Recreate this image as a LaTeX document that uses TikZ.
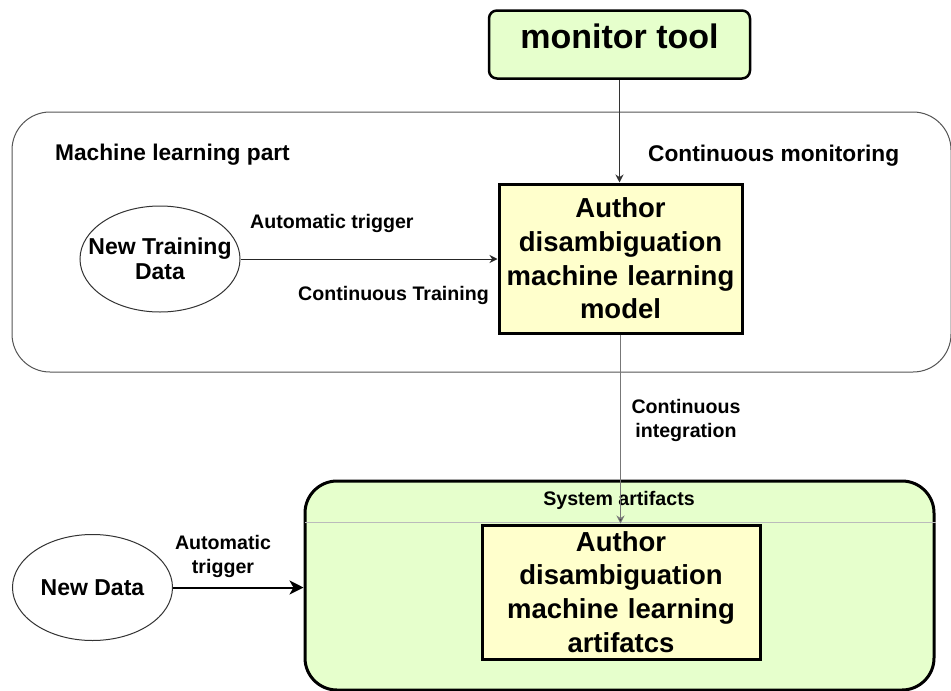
\documentclass[tikz,border=0pt]{standalone}
\usepackage{fontspec}
\setmainfont{Liberation Sans}
\usetikzlibrary{arrows.meta,shapes.geometric}
\definecolor{palegreen}{HTML}{E6FFCC}
\definecolor{paleyellow}{HTML}{FFFFCC}
\definecolor{framegray}{HTML}{555555}
\definecolor{wiregray}{HTML}{777777}
\definecolor{rulegray}{HTML}{BBBBBB}
\begin{document}
\begin{tikzpicture}[x=1pt,y=-1pt,
  modelbox/.style={draw=black, line width=3pt, fill=paleyellow, align=center,
    font=\fontsize{27.5}{33.7}\selectfont\bfseries, inner sep=0pt, text width=240pt},
  blob/.style={ellipse, draw=black!80, line width=1pt, fill=white, inner sep=0pt,
    minimum width=160pt, minimum height=106pt, align=center,
    font=\fontsize{23}{25}\selectfont\bfseries},
  lbl/.style={inner sep=0pt, align=center, font=\fontsize{19.6}{23.5}\selectfont\bfseries},
  headlbl/.style={inner sep=0pt, font=\fontsize{22.7}{26}\selectfont\bfseries},
  thinarrow/.style={-{Stealth[length=8pt,width=8pt]}, line width=1pt},
  thickarrow/.style={-{Stealth[length=14pt,width=14pt,inset=4pt]}, line width=2pt}
]
\useasboundingbox (0,0) rectangle (951,691);

% machine learning container
\node[draw=framegray, line width=1pt, rounded corners=38pt, minimum width=939pt,
      minimum height=260pt, inner sep=0pt] (mlpart) at (481.5,242) {};
\node[headlbl, anchor=base west] (mltitle) at (55,160) {Machine learning part};
\node[headlbl, anchor=base west] (monlbl) at (648,161) {Continuous monitoring};

% monitoring tool
\node[draw=black, line width=2.5pt, rounded corners=8pt, fill=palegreen,
      minimum width=261pt, minimum height=68pt, inner sep=0pt, text depth=17pt,
      font=\fontsize{34}{40}\selectfont\bfseries] (monitor) at (619.5,44.5) {monitor tool};

% model inside the container
\node[modelbox, minimum width=243pt, minimum height=149pt] (model) at (620.5,258.5)
  {Author\\disambiguation\\machine learning\\model};
% the wide first line may poke past the outline, so shrink the horizontal padding
\node[blob, inner xsep=-16pt] (ntd) at (160,259) {New Training\\Data};

% system artifacts container
\node[draw=black, line width=3pt, rounded corners=32pt, fill=palegreen,
      minimum width=629pt, minimum height=209pt, inner sep=0pt] (sys) at (619.5,585.5) {};
\coordinate (sysruleL) at (305,522);
\draw[rulegray, line width=1pt] (sysruleL) -- (sysruleL -| sys.east);
\node[lbl, anchor=base] (syslbl) at (619,505) {System artifacts};
\node[modelbox, minimum width=278pt, minimum height=134pt] (art) at (621,592)
  {Author\\disambiguation\\machine learning\\artifatcs};
\node[blob] (nd) at (92.5,587.5) {New Data};

% connectors
\draw[thinarrow, draw=black!80] (monitor.south) -- (monitor.south |- model.north);
\draw[thinarrow, draw=black!85] (ntd.east) -- (ntd.east -| model.west);
\draw[line width=1pt, draw=wiregray, -{Stealth[length=8pt,width=8pt,fill=black!80]}]
  (model.south) -- (model.south |- art.north);
\draw[thickarrow] (nd.east) -- (nd.east -| sys.west);

% connector labels
\node[lbl, anchor=base west] (trig1) at (250,228) {Automatic trigger};
\node[lbl, anchor=base west] (ctrain) at (298,300) {Continuous Training};
\node[lbl] (cint) at (686,420.7) {Continuous\\integration};
\node[lbl] (trig2) at (223,556.6) {Automatic\\trigger};
\end{tikzpicture}
\end{document}
